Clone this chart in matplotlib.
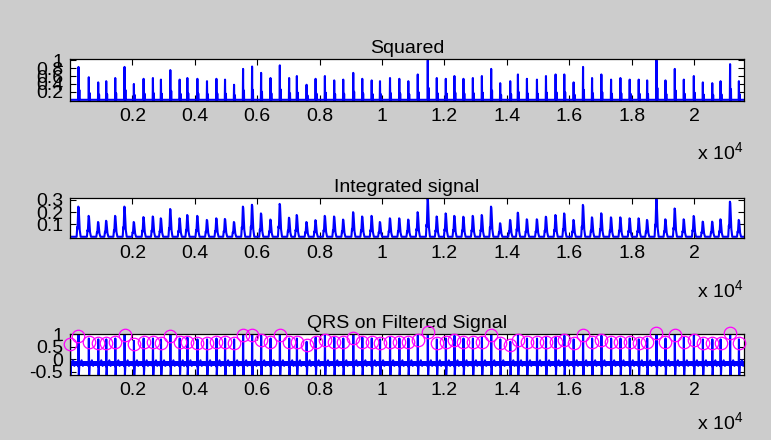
import numpy as np
import matplotlib
matplotlib.use('Agg')
import matplotlib.pyplot as plt

plt.rcParams['font.family'] = ['Liberation Sans', 'DejaVu Sans']
plt.rcParams['mathtext.fontset'] = 'custom'
plt.rcParams['mathtext.rm'] = 'Liberation Sans'

# ---------------- data ----------------
n_samples = 21600

beat_idx = [273, 603, 905, 1162, 1451, 1749, 2048, 2359, 2658, 2915, 3216, 3515,
            3762, 4083, 4391, 4693, 4969, 5258, 5547, 5836, 6125, 6426, 6725, 7023,
            7271, 7582, 7871, 8169, 8468, 8757, 9078, 9367, 9669, 9935, 10256, 10554,
            10843, 11145, 11466, 11755, 12044, 12320, 12609, 12911, 13200, 13498,
            13787, 14108, 14355, 14644, 14965, 15254, 15562, 15841, 16140, 16442,
            16731, 17029, 17340, 17639, 17937, 18226, 18496, 18795, 19083, 19382,
            19671, 19992, 20281, 20583, 20849, 21154, 21436]

squared_peak = [0.83, 0.57, 0.44, 0.47, 0.55, 0.83, 0.40, 0.53, 0.55, 0.51, 0.75, 0.51,
                0.55, 0.53, 0.47, 0.53, 0.51, 0.38, 0.78, 0.84, 0.68, 0.55, 0.87, 0.55,
                0.60, 0.38, 0.53, 0.60, 0.49, 0.51, 0.68, 0.53, 0.49, 0.47, 0.55, 0.53,
                0.47, 0.64, 1.00, 0.55, 0.53, 0.60, 0.53, 0.55, 0.60, 0.78, 0.42, 0.47,
                0.64, 0.53, 0.51, 0.60, 0.64, 0.64, 0.44, 0.83, 0.55, 0.64, 0.51, 0.55,
                0.51, 0.51, 0.49, 1.00, 0.49, 0.78, 0.51, 0.60, 0.44, 0.42, 0.47, 0.90,
                0.47]

integrated_peak = [0.245, 0.17, 0.12, 0.13, 0.17, 0.245, 0.12, 0.16, 0.165, 0.15, 0.226,
                   0.15, 0.177, 0.17, 0.137, 0.15, 0.145, 0.12, 0.245, 0.26, 0.19, 0.14,
                   0.267, 0.155, 0.177, 0.12, 0.135, 0.17, 0.165, 0.14, 0.20, 0.165, 0.17,
                   0.12, 0.15, 0.15, 0.14, 0.20, 0.31, 0.165, 0.19, 0.17, 0.163, 0.17,
                   0.177, 0.245, 0.11, 0.137, 0.196, 0.142, 0.142, 0.163, 0.177, 0.19,
                   0.137, 0.259, 0.158, 0.191, 0.158, 0.158, 0.15, 0.15, 0.137, 0.31,
                   0.142, 0.23, 0.142, 0.169, 0.123, 0.123, 0.142, 0.285, 0.137]

qrs_idx = [1] + beat_idx
qrs_amp = [0.62,
           0.92, 0.67, 0.64, 0.64, 0.67, 0.96, 0.59, 0.67, 0.67, 0.64, 0.92, 0.67,
           0.70, 0.64, 0.64, 0.67, 0.67, 0.64, 0.96, 0.96, 0.76, 0.67, 0.96, 0.67,
           0.67, 0.56, 0.70, 0.76, 0.70, 0.67, 0.83, 0.70, 0.67, 0.64, 0.70, 0.67,
           0.67, 0.76, 1.09, 0.64, 0.67, 0.76, 0.67, 0.67, 0.70, 0.96, 0.64, 0.56,
           0.76, 0.67, 0.67, 0.70, 0.70, 0.76, 0.64, 0.96, 0.67, 0.76, 0.67, 0.67,
           0.67, 0.64, 0.67, 1.05, 0.67, 0.96, 0.70, 0.76, 0.64, 0.64, 0.64, 1.03,
           0.64]

filtered_band = [-0.28, -0.08]

xtick_vals = [2000, 4000, 6000, 8000, 10000, 12000, 14000, 16000, 18000, 20000]
xtick_labels = ['0.2', '0.4', '0.6', '0.8', '1', '1.2', '1.4', '1.6', '1.8', '2']
titles = ['Squared', 'Integrated signal', 'QRS on Filtered Signal']
yticks = [[0.2, 0.4, 0.6, 0.8, 1.0], [0.1, 0.2, 0.3], [-0.5, 0, 0.5, 1]]
yticklabels = [['0.2', '0.4', '0.6', '0.8', '1'], ['0.1', '0.2', '0.3'],
               ['-0.5', '0', '0.5', '1']]
ylims = [(-0.03, 1.03), (-0.01, 0.315), (-0.62, 1.0)]


# ---------------- build the traces from the beat data ----------------
def polyline(idx, amps, template, base):
    xs, ys = [1], [base]
    for b, a in zip(idx, amps):
        for dx, kind, f in template:
            xs.append(b + dx)
            if kind == 'a':
                ys.append(base + f * (a - base))
            else:
                ys.append(f)
    xs.append(n_samples)
    ys.append(base)
    return np.array(xs, float), np.array(ys, float)


sq_tpl = [(-8, 'v', 0.0), (0, 'a', 1.0), (8, 'v', 0.0),
          (22, 'v', 0.0), (28, 'a', 0.3), (34, 'v', 0.0)]
int_tpl = [(-60, 'v', 0.0), (-40, 'a', 0.32), (-30, 'a', 0.26), (-6, 'a', 1.0),
           (6, 'a', 0.96), (40, 'a', 0.22), (70, 'v', 0.0)]
fil_base = -0.18
fil_tpl = [(-40, 'v', fil_base), (-15, 'v', fil_base + 0.06), (-6, 'v', fil_base - 0.1),
           (2, 'a', 1.18), (12, 'a', -0.75), (26, 'v', fil_base - 0.06),
           (45, 'v', fil_base), (100, 'v', fil_base + 0.14), (140, 'v', fil_base - 0.08),
           (170, 'v', fil_base)]

sq_x, sq_y = polyline(beat_idx, squared_peak, sq_tpl, 0.0)
in_x, in_y = polyline(beat_idx, integrated_peak, int_tpl, 0.0)
fi_x, fi_y = polyline(qrs_idx, qrs_amp, fil_tpl, fil_base)
fi_y = np.maximum(fi_y, -0.62)

# ---------------- figure ----------------
W, H = 771, 440
fig = plt.figure(figsize=(W / 100, H / 100), dpi=100, facecolor='#cccccc')

boxes = [(70, 59, 744, 101), (70, 198, 744, 238), (70, 334, 744, 375)]
blue = '#0000ff'
axes = []
for i, (l, t, r, b) in enumerate(boxes):
    ax = fig.add_axes([l / W, 1 - b / H, (r - l) / W, (b - t) / H])
    ax.set_facecolor('white')
    axes.append(ax)

axes[0].plot(sq_x, sq_y, color=blue, lw=1.5)
axes[1].plot(in_x, in_y, color=blue, lw=1.5)
axes[2].fill_between([1, n_samples], filtered_band[0], filtered_band[1],
                     color=blue, lw=0)
axes[2].plot(fi_x, fi_y, color=blue, lw=1.5)
axes[2].plot(qrs_idx, qrs_amp, linestyle='none', marker='o', markersize=9,
             markerfacecolor='none', markeredgecolor='#ff00ff', markeredgewidth=0.9,
             clip_on=False, zorder=5)

for i, ax in enumerate(axes):
    ax.set_xlim(1, n_samples)
    ax.set_ylim(*ylims[i])
    ax.set_xticks(xtick_vals)
    ax.set_xticklabels(xtick_labels)
    ax.set_yticks(yticks[i])
    ax.set_yticklabels(yticklabels[i])
    ax.tick_params(direction='in', length=4, width=0.8, top=True, right=True,
                   labelsize=14, pad=5, colors='black')
    ax.tick_params(axis='y', pad=5)
    for s in ax.spines.values():
        s.set_linewidth(0.9)
        s.set_color('black')
    ax.set_title(titles[i], fontsize=14, pad=4, color='#000000')

# exponent labels (x 10^4)
for ypix in [153, 291, 423]:
    fig.text(697 / W, 1 - ypix / H, r'x 10$^{\mathregular{4}}$', fontsize=14,
             ha='left', va='center', color='black')

fig.savefig('out.png', dpi=100, facecolor=fig.get_facecolor())
